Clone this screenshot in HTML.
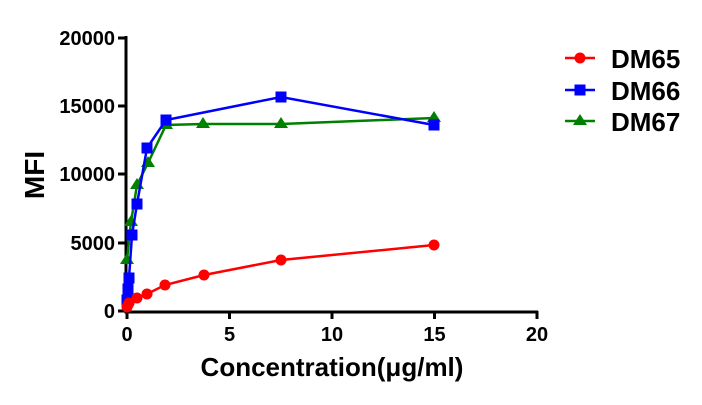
<!DOCTYPE html>
<html><head><meta charset="utf-8"><style>html,body{margin:0;padding:0;background:#fff}</style></head>
<body>
<svg width="702" height="400" xmlns="http://www.w3.org/2000/svg" font-family="Liberation Sans, Arial, sans-serif" font-weight="bold">
<rect width="702" height="400" fill="#fff"/>
<g stroke="#000" stroke-width="3" fill="none">
<path d="M126,36 V312 H538"/>
<path d="M118,38 H126 M118,106 H126 M118,174 H126 M118,243 H126 M118,311 H126"/>
<path d="M127,311 V319 M229.5,311 V319 M332,311 V319 M434.5,311 V319 M537,311 V319"/>
</g>
<g font-size="20" text-anchor="end" fill="#000">
<text x="115" y="45">20000</text><text x="115" y="113">15000</text><text x="115" y="181">10000</text><text x="115" y="250">5000</text><text x="115" y="318">0</text>
</g>
<g font-size="20" text-anchor="middle" fill="#000">
<text x="127" y="341">0</text><text x="229.5" y="341">5</text><text x="332" y="341">10</text><text x="434.5" y="341">15</text><text x="537" y="341">20</text>
</g>
<text x="332" y="376" font-size="26" text-anchor="middle">Concentration(μg/ml)</text>
<text transform="translate(44,175) rotate(-90)" font-size="28" text-anchor="middle">MFI</text>
<!-- DM67 -->
<polyline fill="none" stroke="#008000" stroke-width="2.5" points="127,260 131,222 137,185 148,163 166,125 203,124 281,124 434,118"/>
<g fill="#008000">
<path d="M127,253 l7,11 h-14z"/><path d="M131,215 l7,11 h-14z"/><path d="M137,178 l7,11 h-14z"/><path d="M148,156 l7,11 h-14z"/><path d="M166,118 l7,11 h-14z"/><path d="M203,117 l7,11 h-14z"/><path d="M281,117 l7,11 h-14z"/><path d="M434,111 l7,11 h-14z"/>
</g>
<!-- DM66 -->
<polyline fill="none" stroke="#0000ff" stroke-width="2.5" points="127,300 128,297 128,289 129,278 132,235 137,204 147,148 166,120 281,97 434,125"/>
<g fill="#0000ff">
<rect x="121.5" y="294.5" width="11" height="11"/><rect x="122.5" y="283.5" width="11" height="11"/><rect x="123.5" y="272.5" width="11" height="11"/><rect x="126.5" y="229.5" width="11" height="11"/><rect x="131.5" y="198.5" width="11" height="11"/><rect x="141.5" y="142.5" width="11" height="11"/><rect x="160.5" y="114.5" width="11" height="11"/><rect x="275.5" y="91.5" width="11" height="11"/><rect x="428.5" y="119.5" width="11" height="11"/>
</g>
<!-- DM65 -->
<polyline fill="none" stroke="#ff0000" stroke-width="2.5" points="127,307 128,305 129,303 132,300 137,298 147,294 165,285 204,275 281,260 434,245"/>
<g fill="#ff0000">
<circle cx="127" cy="307" r="5.5"/><circle cx="128" cy="305" r="5.5"/><circle cx="129" cy="303" r="5.5"/><circle cx="137" cy="298" r="5.5"/><circle cx="147" cy="294" r="5.5"/><circle cx="165" cy="285" r="5.5"/><circle cx="204" cy="275" r="5.5"/><circle cx="281" cy="260" r="5.5"/><circle cx="434" cy="245" r="5.5"/>
</g>
<!-- legend -->
<line x1="565" y1="58" x2="595" y2="58" stroke="#ff0000" stroke-width="2.5"/><circle cx="580" cy="58" r="5.5" fill="#ff0000"/>
<line x1="565" y1="90" x2="595" y2="90" stroke="#0000ff" stroke-width="2.5"/><rect x="574.5" y="84.5" width="11" height="11" fill="#0000ff"/>
<line x1="565" y1="121" x2="595" y2="121" stroke="#008000" stroke-width="2.5"/><path d="M580,114 l7,11 h-14z" fill="#008000"/>
<g font-size="26" fill="#000">
<text x="611" y="68">DM65</text><text x="611" y="100">DM66</text><text x="611" y="131">DM67</text>
</g>
</svg>
</body></html>
